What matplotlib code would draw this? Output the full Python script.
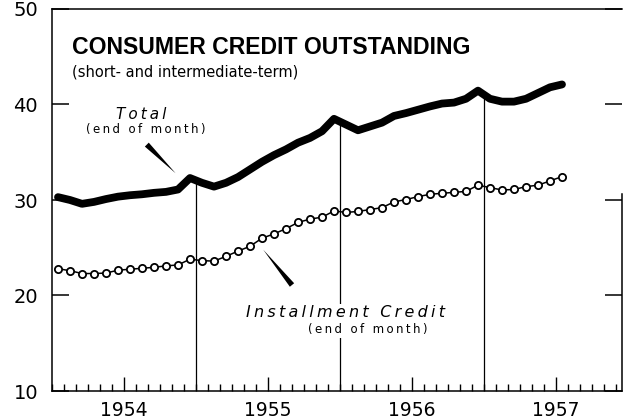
import matplotlib
matplotlib.use("Agg")
import matplotlib.pyplot as plt
import numpy as np
from matplotlib.ticker import MultipleLocator

# Monthly data, Jan 1954 .. Jul 1957 (billions of dollars, end of month)
months = np.arange(43)
total = [30.3, 30.0, 29.6, 29.8, 30.1, 30.35, 30.5, 30.6, 30.75, 30.85, 31.1, 32.3,
         31.8, 31.4, 31.8, 32.4, 33.2, 34.0, 34.7, 35.3, 36.0, 36.5, 37.2, 38.5,
         37.9, 37.3, 37.7, 38.1, 38.8, 39.1, 39.45, 39.8, 40.1, 40.2, 40.6, 41.45,
         40.6, 40.3, 40.3, 40.6, 41.2, 41.8, 42.1]
installment = [22.8, 22.6, 22.3, 22.3, 22.35, 22.65, 22.75, 22.85, 22.95, 23.1, 23.2, 23.8,
               23.65, 23.6, 24.1, 24.65, 25.15, 26.0, 26.45, 27.0, 27.65, 28.0, 28.2, 28.85,
               28.7, 28.8, 29.0, 29.2, 29.8, 30.05, 30.35, 30.6, 30.7, 30.8, 30.9, 31.55,
               31.3, 31.05, 31.1, 31.4, 31.55, 32.0, 32.45]
years = ["1954", "1955", "1956", "1957"]
year_centers = [6, 18, 30, 42]
year_bounds = [12, 24, 36]
yticks = [10, 20, 30, 40, 50]

NUM = "DejaVu Sans"

fig = plt.figure(figsize=(6.24, 4.19), dpi=100)
ax = fig.add_axes([52/624, 28/419, 570/624, 382/419])
ax.set_xlim(0, 47.5)
ax.set_ylim(10, 50)

x = months + 0.5
ax.plot(x, total, color="black", lw=5.6, solid_capstyle="round",
        solid_joinstyle="round", zorder=3)
ax.plot(x, installment, color="black", lw=1.1, marker="o", ms=5.2,
        mfc="white", mec="black", mew=1.3, zorder=4)

for b in year_bounds:
    top = np.interp(b, x, total)
    ax.vlines(b, 10, top, color="black", lw=0.9, zorder=1)

# axes / ticks
for s in ax.spines.values():
    s.set_linewidth(1.1)
ax.spines["right"].set_bounds(10, 30.6)

ax.set_xticks(year_centers)
ax.set_xticklabels(years, fontfamily=NUM)
ax.xaxis.set_minor_locator(MultipleLocator(1))
ax.tick_params(axis="x", which="major", direction="in", length=10, width=1,
               pad=7, labelsize=13.5)
ax.tick_params(axis="x", which="minor", direction="in", length=5, width=1)

ax.set_yticks(yticks)
ax.set_yticklabels([str(v) for v in yticks], fontfamily=NUM)
ax.tick_params(axis="y", direction="in", length=12, width=1.1, left=True,
               right=True, pad=10, labelsize=14)

# titles
ax.text(1.67, 46.0, "CONSUMER CREDIT OUTSTANDING", fontsize=16.6,
        fontweight="bold", fontfamily="Liberation Sans", va="center", ha="left")
ax.text(1.67, 43.4, "(short- and intermediate-term)", fontsize=10.5,
        fontfamily="DejaVu Sans", va="center", ha="left")

sp = "\u2009"
ax.text(7.4, 39.0, sp.join("Total"), fontsize=11, style="italic",
        fontfamily="DejaVu Sans", ha="center", va="center")
ax.text(7.8, 37.33, sp.join("(end of month)"), fontsize=8.5,
        fontfamily="DejaVu Sans", ha="center", va="center")
ax.text(24.5, 18.17, sp.join("Installment Credit"), fontsize=11.5, style="italic",
        fontfamily="DejaVu Sans", ha="center", va="center", zorder=5,
        bbox=dict(facecolor="white", edgecolor="none", pad=1))
ax.text(26.3, 16.4, sp.join("(end of month)"), fontsize=8.5,
        fontfamily="DejaVu Sans", ha="center", va="center", zorder=5,
        bbox=dict(facecolor="white", edgecolor="none", pad=1))

# tapered leader strokes
ax.annotate("", xy=(10.3, 32.8), xytext=(7.9, 35.8),
            arrowprops=dict(arrowstyle="wedge,tail_width=0.4,shrink_factor=0.5",
                            color="black", lw=0, shrinkA=0, shrinkB=0),
            annotation_clip=False)
ax.annotate("", xy=(17.6, 24.8), xytext=(20.0, 21.1),
            arrowprops=dict(arrowstyle="wedge,tail_width=0.4,shrink_factor=0.5",
                            color="black", lw=0, shrinkA=0, shrinkB=0),
            annotation_clip=False)

fig.savefig("out.png", dpi=100)
